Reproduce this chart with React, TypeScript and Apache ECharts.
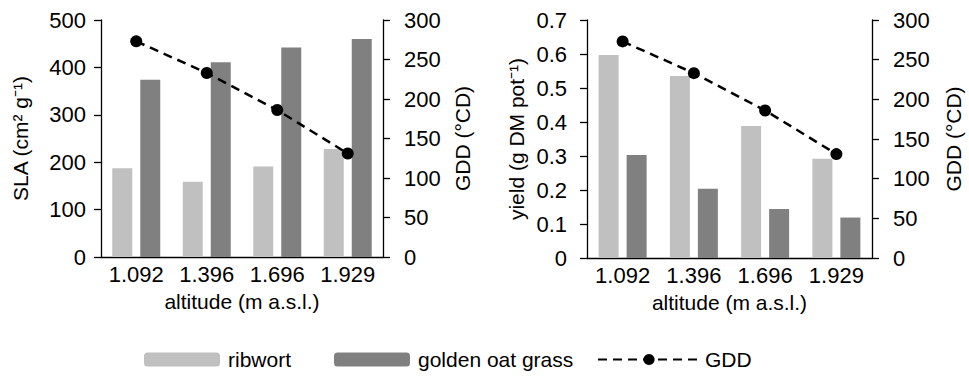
import React, { useEffect, useRef } from "react";
import * as echarts from "echarts";

const categories = ["1.092", "1.396", "1.696", "1.929"];
const slaRibwort = [187, 159, 191, 228];
const slaGolden = [374, 411, 442, 460];
const gdd = [273, 233, 186, 131];
const yieldRibwort = [0.597, 0.535, 0.388, 0.292];
const yieldGolden = [0.303, 0.204, 0.144, 0.119];

const FONT = '"Liberation Sans", Arial, sans-serif';
const RIB = "#c0c0c0";
const GOLD = "#808080";

function valueAxis(grid: number, pos: string, min: number, max: number, interval: number, name: string, nameGap: number, labelMargin: number, fmt?: (v: number) => string) {
  return {
    type: "value",
    gridIndex: grid,
    position: pos,
    min,
    max,
    interval,
    splitLine: { show: false },
    axisLine: { show: true, lineStyle: { color: "#000", width: 1.3 } },
    axisTick: { show: true, length: 7, lineStyle: { color: "#000", width: 1.3 } },
    axisLabel: { fontSize: 22, color: "#000", fontFamily: FONT, margin: labelMargin, formatter: fmt },
    name,
    nameLocation: "middle",
    nameGap,
    nameTextStyle: { fontSize: 21, color: "#000", fontFamily: FONT },
  };
}

export default function App() {
  const ref = useRef<HTMLDivElement>(null);
  useEffect(() => {
    if (!ref.current) return;
    const chart = echarts.init(ref.current, undefined, { renderer: "svg" });
    const xAxis = [0, 1].map((i) => ({
      type: "category",
      gridIndex: i,
      data: categories,
      axisLine: { lineStyle: { color: "#000", width: 1.3 } },
      axisTick: { length: 7, lineStyle: { color: "#000", width: 1.3 } },
      axisLabel: { fontSize: 22, color: "#000", fontFamily: FONT, margin: 6, interval: 0 },
      name: "altitude (m a.s.l.)",
      nameLocation: "middle",
      nameGap: 34,
      nameTextStyle: { fontSize: 21, color: "#000", fontFamily: FONT },
    }));
    const yAxis = [
      valueAxis(0, "left", 0, 500, 100, "SLA (cm² g⁻¹)", 70, 15),
      valueAxis(0, "right", 0, 300, 50, "GDD (°CD)", 69, 21),
      valueAxis(1, "left", 0, 0.7, 0.1, "yield (g DM pot⁻¹)", 60, 20, (v: number) => String(+v.toFixed(1))),
      valueAxis(1, "right", 0, 300, 50, "GDD (°CD)", 71, 21),
    ];
    const barCommon = { type: "bar", barWidth: 20, barGap: "40%" };
    const lineCommon = {
      type: "line",
      name: "GDD",
      symbol: "circle",
      symbolSize: 12,
      itemStyle: { color: "#000" },
      lineStyle: { color: "#000", width: 2.5, type: [9, 6] },
      z: 5,
    };
    const series = [
      { ...barCommon, name: "ribwort", xAxisIndex: 0, yAxisIndex: 0, data: slaRibwort, itemStyle: { color: RIB } },
      { ...barCommon, name: "golden oat grass", xAxisIndex: 0, yAxisIndex: 0, data: slaGolden, itemStyle: { color: GOLD } },
      { ...lineCommon, xAxisIndex: 0, yAxisIndex: 1, data: gdd },
      { ...barCommon, name: "ribwort", xAxisIndex: 1, yAxisIndex: 2, data: yieldRibwort, itemStyle: { color: RIB } },
      { ...barCommon, name: "golden oat grass", xAxisIndex: 1, yAxisIndex: 2, data: yieldGolden, itemStyle: { color: GOLD } },
      { ...lineCommon, xAxisIndex: 1, yAxisIndex: 3, data: gdd },
    ];
    const legendText = { fontSize: 21, color: "#000", fontFamily: FONT, padding: [0, 0, 0, 3] };
    chart.setOption({
      animation: false,
      textStyle: { fontFamily: FONT, color: "#000" },
      grid: [
        { left: 101, top: 20, width: 282, height: 237 },
        { left: 587, top: 20, width: 285, height: 238 },
      ],
      legend: [
        {
          data: ["ribwort", "golden oat grass"],
          left: 139,
          top: 344,
          itemWidth: 76,
          itemHeight: 14,
          itemGap: 43,
          selectedMode: false,
          textStyle: legendText,
        },
        {
          data: ["GDD"],
          left: 592,
          top: 344,
          itemWidth: 102,
          itemHeight: 14,
          selectedMode: false,
          textStyle: { ...legendText, padding: [0, 0, 0, 0] },
        },
      ],
      xAxis,
      yAxis,
      series,
    });
    return () => chart.dispose();
  }, []);
  return (
    <div
      ref={ref}
      style={{ position: "fixed", left: 0, top: 0, width: 969, height: 382, background: "#fff" }}
    />
  );
}
